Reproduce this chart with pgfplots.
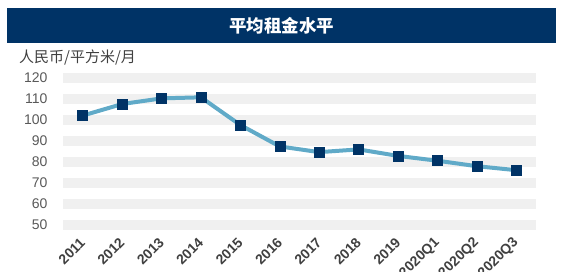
\documentclass[border=0pt]{standalone}
\usepackage{fontspec}
\setmainfont{Liberation Sans}
\newfontfamily\cjk{Noto Sans CJK SC}
\usepackage{pgfplots}
\pgfplotsset{compat=1.18}
\definecolor{navy}{RGB}{0,51,102}
\definecolor{linec}{RGB}{96,170,200}
\definecolor{band}{RGB}{240,240,240}
\definecolor{tickgray}{RGB}{89,89,89}
\definecolor{labgray}{RGB}{64,64,64}
\begin{document}
\begin{tikzpicture}
\useasboundingbox (0bp,0bp) rectangle (562bp,272bp);
\fill[navy] (7bp,229bp) rectangle (556bp,264bp);
\node[text=white, font=\cjk\bfseries\fontsize{17.5bp}{20bp}\selectfont] at (281.5bp,246.5bp) {平均租金水平};
\node[anchor=west, text=labgray, font=\cjk\fontsize{15bp}{18bp}\selectfont, inner sep=0pt] at (19bp,215bp) {人民币/平方米/月};
\begin{axis}[
  at={(63bp,42.8bp)}, anchor=south west, scale only axis,
  width=473bp, height=155.4bp,
  xmin=-0.5, xmax=11.5, ymin=48, ymax=122,
  axis line style={draw=none},
  major tick length=0pt,
  ytick={50,60,...,120},
  xtick={0,...,11},
  xticklabels={2011,2012,2013,2014,2015,2016,2017,2018,2019,2020Q1,2020Q2,2020Q3},
  ymajorgrids,
  grid style={band, line width=10.5bp},
  /pgf/number format/assume math mode=true,
  yticklabel style={text=tickgray, font=\fontsize{14bp}{16bp}\selectfont, xshift=-12bp},
  x tick label style={text=labgray, font=\bfseries\fontsize{14bp}{16bp}\selectfont, rotate=45, anchor=east, inner sep=0pt},
  xticklabel shift=11bp,
  clip=false,
]
\addplot[linec, line width=4bp, mark=square*, mark size=5bp,
  mark options={solid, fill=navy, draw=navy, line width=0.5bp}]
  coordinates {(0,102.1) (1,107.6) (2,110.3) (3,110.8) (4,97.6) (5,87.4) (6,84.7) (7,86.0) (8,82.9) (9,80.6) (10,78.0) (11,76.1)};
\end{axis}
\end{tikzpicture}
\end{document}
